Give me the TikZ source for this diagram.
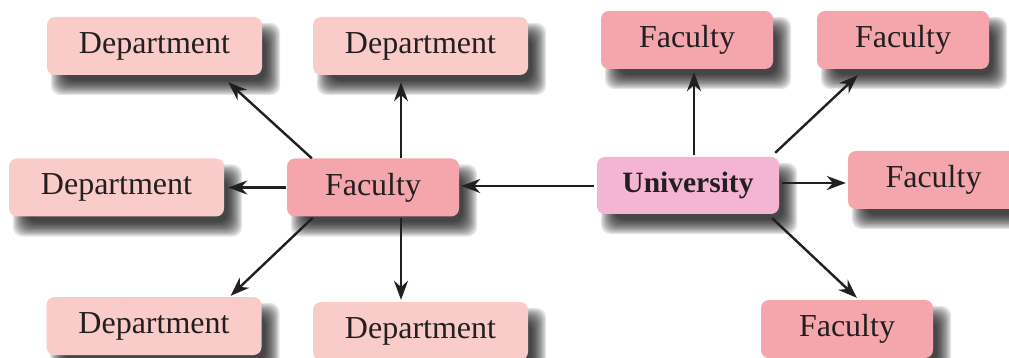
\documentclass[tikz,border=0pt]{standalone}
\usepackage{fontspec}
\setmainfont{Liberation Serif}
\usetikzlibrary{arrows.meta}
\pgfdeclarelayer{shadowlayer}
\pgfsetlayers{shadowlayer,main}
\definecolor{deptc}{RGB}{250,204,201}
\definecolor{facc}{RGB}{244,166,172}
\definecolor{univc}{RGB}{244,180,212}
\definecolor{txtc}{RGB}{35,31,32}
\begin{document}
\begin{tikzpicture}[x=1pt,y=-1pt,
  boxbase/.style={rounded corners=8pt, inner sep=0pt, text=txtc,
    font=\fontsize{32}{36}\selectfont},
  deptbox/.style={boxbase, fill=deptc, minimum width=215pt, minimum height=58pt},
  facbox/.style={boxbase, fill=facc, minimum width=172pt, minimum height=58pt},
  univbox/.style={boxbase, fill=univc, minimum width=182pt, minimum height=57pt,
    font=\fontsize{29.5}{34}\selectfont\bfseries},
  shadowlayerstyle/.style={fill=black, opacity=0.1, rounded corners=10pt},
  arr/.style={draw=txtc, line width=2.4pt, -{Stealth[length=19pt,width=14pt]}}
]
\useasboundingbox (0,0) rectangle (1009,358);
% departments
\node[deptbox] (d1) at (154.5,46) {Department};
\node[deptbox] (d2) at (420.5,46) {Department};
\node[deptbox] (d3) at (116.5,187.5) {Department};
\node[deptbox] (d4) at (154,326) {Department};
\node[deptbox] (d5) at (420.5,331) {Department};
% faculties
\node[facbox] (fc) at (373,187.5) {Faculty};
\node[facbox] (f1) at (687,40) {Faculty};
\node[facbox] (f2) at (903,40) {Faculty};
\node[facbox, minimum width=180pt] (f3) at (938,180) {};
\node[txtc, font=\fontsize{32}{36}\selectfont] (f3t) at (933.5,180) {Faculty};
\node[facbox] (f4) at (847,329) {Faculty};
% university
\node[univbox] (u) at (688,185.5) {University};
% soft drop shadows
\begin{pgfonlayer}{shadowlayer}
\foreach \n in {d1,d2,d3,d4,d5,fc,f1,f2,f3,f4,u}{
  \foreach \k in {0,...,11}{
    \pgfmathsetmacro{\e}{7-1.3*\k}
    \fill[shadowlayerstyle] ([shift={(11-\e,13-\e)}]\n.north west) rectangle ([shift={(11+\e,13+\e)}]\n.south east);
  }
}
\end{pgfonlayer}
% arrows from faculty
\draw[arr] ([xshift=-1pt]fc.west) -- ([xshift=4pt]d3.east);
\draw[arr] ([xshift=25pt]fc.north west) -- ([xshift=-34pt,yshift=-7pt]d1.south east);
\draw[arr] ([xshift=28pt]fc.north) -- ([xshift=-19.5pt,yshift=-7pt]d2.south);
\draw[arr] ([xshift=26pt,yshift=-1pt]fc.south west) -- ([xshift=-31pt,yshift=1pt]d4.north east);
\draw[arr] ([xshift=28pt,yshift=-1pt]fc.south) -- ([xshift=-19.5pt,yshift=2pt]d5.north);
% arrows from university
\draw[arr] ([xshift=-3pt,yshift=-0.5pt]u.west) -- ([xshift=2pt,yshift=1.5pt]fc.east);
\draw[arr] ([xshift=6pt,yshift=2pt]u.north) -- ([xshift=7pt,yshift=-3pt]f1.south);
\draw[arr] ([xshift=-4pt,yshift=4pt]u.north east) -- ([xshift=41pt,yshift=-6pt]f2.south west);
\draw[arr] ([xshift=3pt,yshift=2.5pt]u.east) -- ([xshift=-2pt,yshift=-3pt]f3.west);
\draw[arr] ([xshift=-7pt,yshift=-4pt]u.south east) -- ([xshift=96pt,yshift=2pt]f4.north west);
\end{tikzpicture}
\end{document}
